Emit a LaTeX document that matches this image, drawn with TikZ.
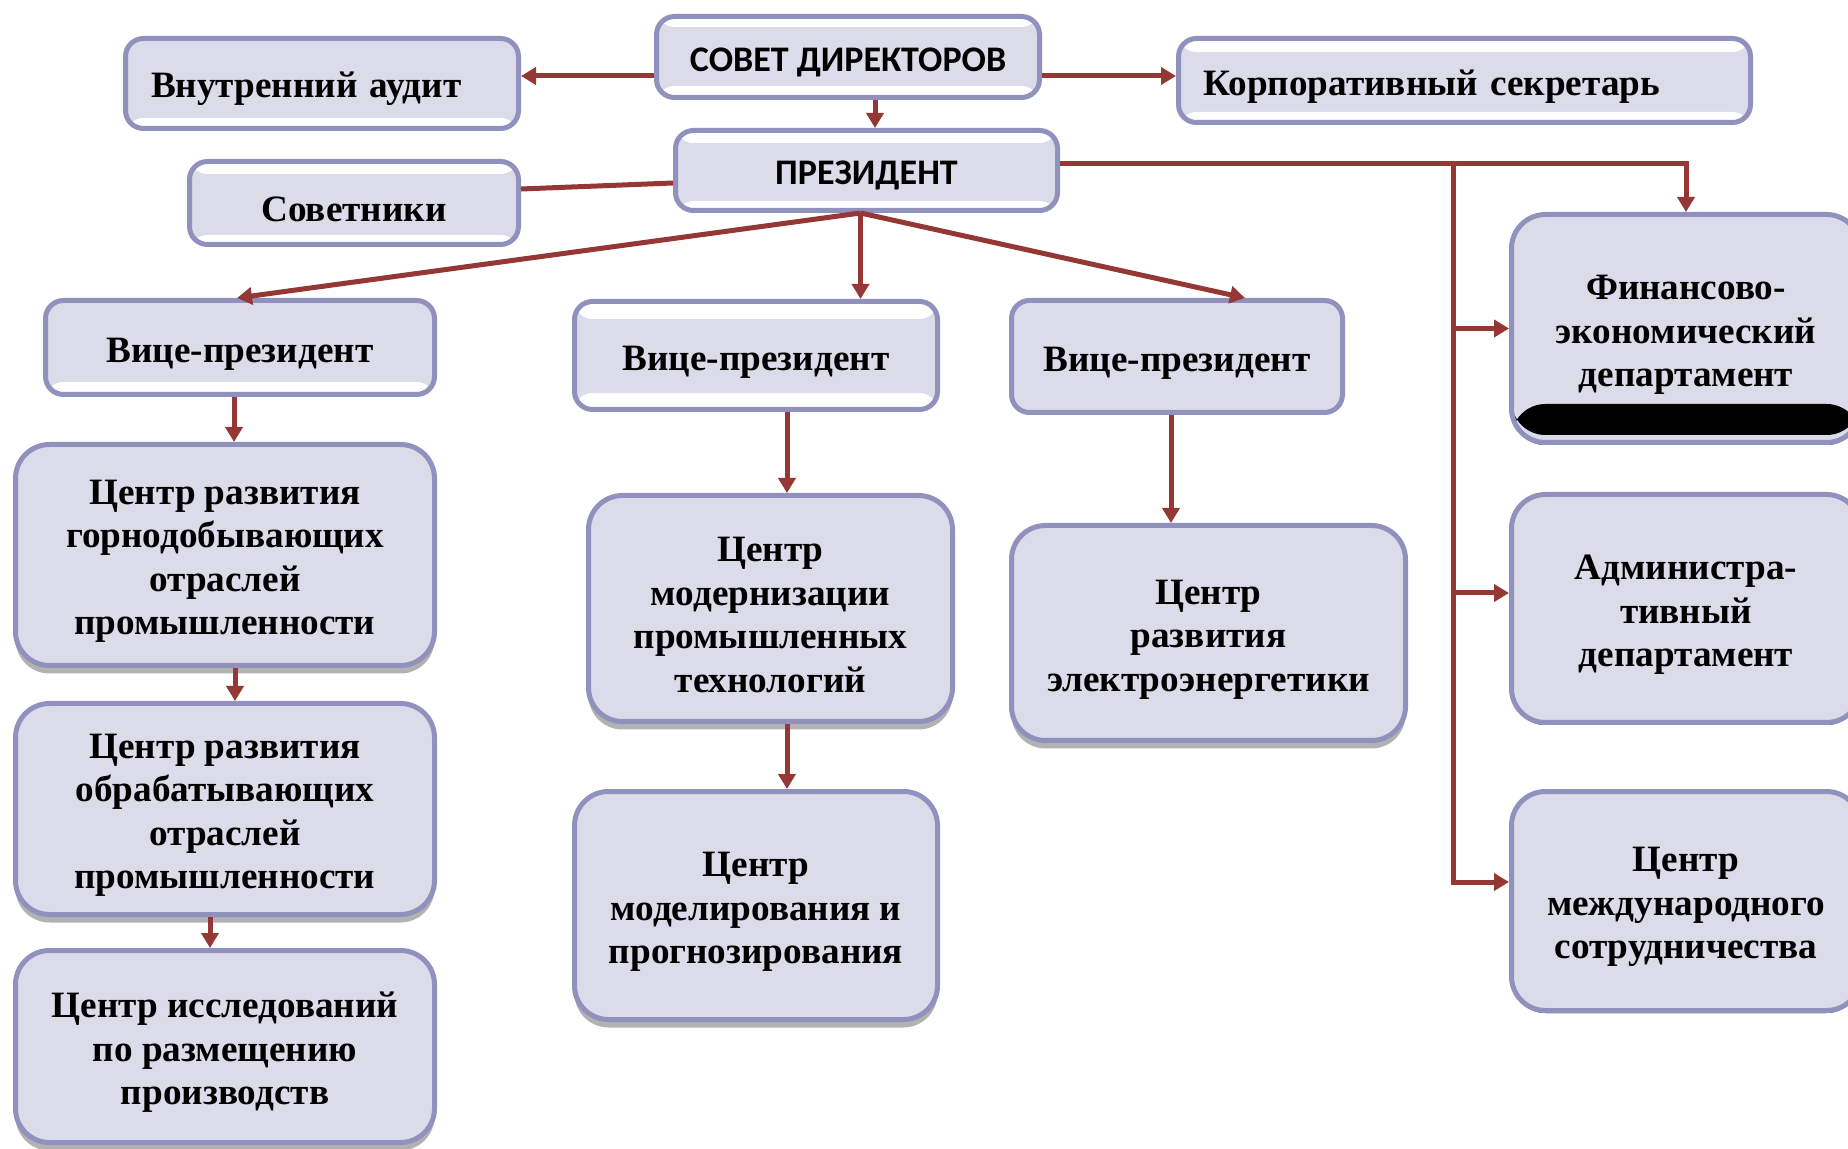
\documentclass[tikz,border=0pt]{standalone}
\usepackage{fontspec}
\setmainfont{Liberation Serif}
\newfontfamily\calibri{Carlito}
\usetikzlibrary{arrows.meta,positioning,calc,shadows}
\definecolor{frame}{HTML}{9191BE}
\definecolor{lilac}{HTML}{DBDBE9}
\definecolor{wine}{HTML}{953735}
\newcommand{\nodebox}[7]{
  \node[#2,minimum width={(#5-#3-5)*0.5pt},minimum height={(#6-#4-5)*0.5pt}] (#1) at ({(#3+#5)/2},{(#4+#6)/2}) {\rule{0pt}{\lift}#7};
}
\tikzset{
  box/.style={rectangle,draw=frame,fill=lilac,line width=2.5pt,rounded corners=9pt,align=center,
    inner sep=2pt,font=\bfseries\fontsize{18.6}{21.75}\selectfont,
    execute at begin node={\def\lift{18.5pt}}},
  unit/.style={box,rounded corners=17pt},
  chief/.style={font=\calibri\bfseries\fontsize{18}{20}\selectfont,
    execute at begin node={\def\lift{17pt}}},
  leftbox/.style={text width=#1,inner xsep=12.5pt,align=left},
  bands/.style 2 args={path picture={
    \fill[white] (path picture bounding box.north west) rectangle ([yshift=-#1]path picture bounding box.north east);
    \fill[white] (path picture bounding box.south west) rectangle ([yshift=#2]path picture bounding box.south east);}},
  blackband/.style={path picture={
    \fill[black] ([yshift=3.75pt]path picture bounding box.south west) rectangle ([yshift=19.25pt]path picture bounding box.south east);}},
  grey shadow/.style={drop shadow={shadow xshift=0pt,shadow yshift=-4pt,fill=black!30,opacity=1}},
  dark shadow/.style={drop shadow={shadow xshift=0pt,shadow yshift=-1.25pt,fill=black,opacity=1}},
  link/.style={draw=wine,line width=2.5pt}
}

\begin{document}
\begin{tikzpicture}[x=0.5pt,y=-0.5pt,>={Triangle[width=8.5pt,length=7.5pt]}]
  \useasboundingbox (0,0) rectangle (1848,1149);
  % top level
  \nodebox{board}{box,chief,bands={5.25pt}{5.75pt}}{654}{14}{1042}{100}{СОВЕТ ДИРЕКТОРОВ}
  \nodebox{audit}{box,leftbox=171pt,bands={0pt}{5.25pt}}{123}{36}{521}{131}{Внутренний аудит}
  \nodebox{secretary}{box,leftbox=261pt,bands={6.75pt}{5.25pt}}{1176}{36}{1753}{125}{Корпоративный секретарь}
  \nodebox{president}{box,chief,bands={6.25pt}{4.75pt}}{673}{128}{1060}{213}{ПРЕЗИДЕНТ}
  \nodebox{advisers}{box,bands={6.25pt}{4.75pt}}{187}{159}{521}{247}{Советники}
  % vice-presidents
  \nodebox{vpa}{box,bands={0pt}{6.25pt}}{43}{298}{437}{397}{Вице-президент}
  \nodebox{vpb}{box,bands={8.75pt}{8.25pt}}{572}{299}{940}{412}{Вице-президент}
  \nodebox{vpc}{box}{1009}{298}{1345}{415}{Вице-президент}
  % centres
  \nodebox{mining}{unit,grey shadow}{13}{442}{437}{668}{Центр развития\\горнодобывающих\\отраслей\\промышленности}
  \nodebox{processing}{unit,grey shadow}{13}{701}{437}{917}{Центр развития\\обрабатывающих\\отраслей\\промышленности}
  \nodebox{siting}{unit,grey shadow}{13}{948}{437}{1145}{Центр исследований\\по размещению\\производств}
  \nodebox{modern}{unit,grey shadow}{586}{493}{955}{724}{Центр\\модернизации\\промышленных\\технологий}
  \nodebox{modelling}{unit,grey shadow}{572}{789}{940}{1022}{Центр\\моделирования и\\прогнозирования}
  \nodebox{power}{unit,grey shadow}{1009}{523}{1408}{743}{Центр\\развития\\электроэнергетики}
  \nodebox{finance}{unit,dark shadow,blackband}{1509}{212}{1863}{445}{Финансово-\\экономический\\департамент}
  \nodebox{admin}{unit,dark shadow}{1509}{492}{1863}{725}{Администра-\\тивный\\департамент}
  \nodebox{intl}{unit,dark shadow}{1509}{789}{1863}{1013}{Центр\\международного\\сотрудничества}

  \draw[link,->] ([yshift=-9.5pt]board.west) -- ([yshift=-9.5pt]board.west -| audit.east);
  \draw[link,->] ([yshift=-9.5pt]board.east) -- ([yshift=-9.5pt]board.east -| secretary.west);
  \draw[link,->] ([xshift=13.5pt]board.south) -- ([xshift=13.5pt]board.south |- president.north);
  \draw[link] ([yshift=-6.25pt]president.west) -- ([yshift=7pt]advisers.east);
  \draw[link,->] ([yshift=3.25pt]president.east) -| (finance.north);

  \coordinate (fan) at ([xshift=-3pt]president.south);
  \draw[link,->] (fan) -- ([xshift=-1.5pt]vpa.north);
  \draw[link,->] (fan) -- (fan |- vpb.north);
  \draw[link,->] (fan) -- ([xshift=34pt]vpc.north);

  \draw[link,->] ([xshift=-3pt]vpa.south) -- ([xshift=-3pt]vpa.south |- mining.north);
  \draw[link,->] ([xshift=5pt]mining.south) -- ([xshift=5pt]mining.south |- processing.north);
  \draw[link,->] ([xshift=-7.5pt]processing.south) -- ([xshift=-7.5pt]processing.south |- siting.north);
  \draw[link,->] ([xshift=15.5pt]vpb.south) -- ([xshift=15.5pt]vpb.south |- modern.north);
  \draw[link,->] ([xshift=8.25pt]modern.south) -- ([xshift=8.25pt]modern.south |- modelling.north);
  \draw[link,->] ([xshift=-3pt]vpc.south) -- ([xshift=-3pt]vpc.south |- power.north);

  % departments on the right
  \coordinate (trunk) at (1453,164);
  \draw[link,->] (trunk) |- (finance.west);
  \draw[link,->] (trunk) |- ([yshift=7.75pt]admin.west);
  \draw[link,->] (trunk) |- ([yshift=9.5pt]intl.west);
\end{tikzpicture}
\end{document}
